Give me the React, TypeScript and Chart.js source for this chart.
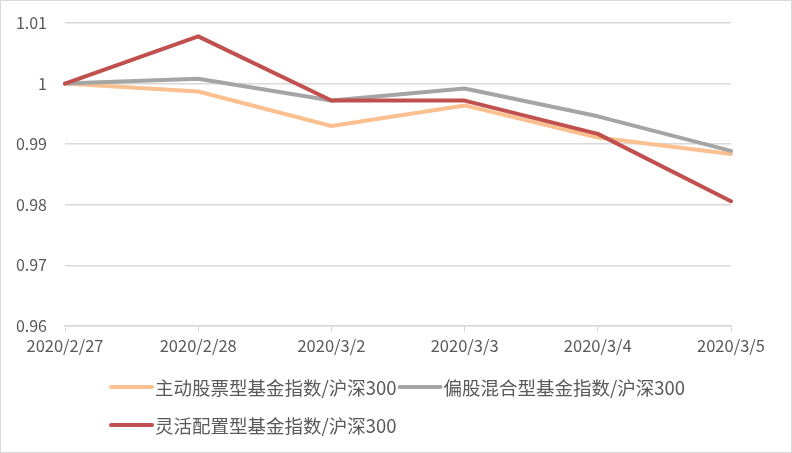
import React, { useEffect, useRef } from "react";
import { Chart, registerables } from "chart.js";

Chart.register(...registerables);

const categories = ["2020/2/27", "2020/2/28", "2020/3/2", "2020/3/3", "2020/3/4", "2020/3/5"];
const activeStock = [1.0, 0.9987, 0.993, 0.9964, 0.9911, 0.9884];
const equityHybrid = [1.0, 1.0008, 0.9972, 0.9992, 0.9946, 0.9889];
const flexibleAlloc = [1.0, 1.0078, 0.9972, 0.9972, 0.9917, 0.9806];
const seriesNames = ["主动股票型基金指数/沪深300", "偏股混合型基金指数/沪深300", "灵活配置型基金指数/沪深300"];
const seriesColors = ["#FAC090", "#A5A5A5", "#C0504D"];

const FONT = '"Noto Sans CJK SC", "Noto Sans", sans-serif';

const legendPlugin = {
  id: "excelLegend",
  afterDraw(chart: any) {
    const ctx = chart.ctx;
    const area = chart.chartArea;
    ctx.save();
    ctx.font = `18.5px ${FONT}`;
    ctx.textBaseline = "middle";
    ctx.textAlign = "left";
    const startX = 108;
    const maxX = 745;
    let x = startX;
    let row = 0;
    chart.data.datasets.forEach((ds: any) => {
      const w = 46 + ctx.measureText(ds.label).width;
      if (x + w > maxX && x !== startX) {
        row += 1;
        x = startX;
      }
      const y = area.bottom + 61 + row * 38;
      ctx.strokeStyle = ds.borderColor;
      ctx.lineWidth = 4;
      ctx.lineCap = "round";
      ctx.beginPath();
      ctx.moveTo(x + 2, y);
      ctx.lineTo(x + 43, y);
      ctx.stroke();
      ctx.fillStyle = "#595959";
      ctx.fillText(ds.label, x + 46, y + 1);
      x += w + 1;
    });
    ctx.restore();
  },
};

export default function App() {
  const canvasRef = useRef<HTMLCanvasElement | null>(null);

  useEffect(() => {
    document.body.style.margin = "0";
    const values = [activeStock, equityHybrid, flexibleAlloc];
    const chart = new Chart(canvasRef.current as HTMLCanvasElement, {
      type: "line",
      data: {
        labels: categories,
        datasets: values.map((v, i) => ({
          label: seriesNames[i],
          data: v,
          borderColor: seriesColors[i],
          backgroundColor: seriesColors[i],
          borderWidth: 4,
          pointRadius: 0,
          tension: 0,
          fill: false,
          borderJoinStyle: "round" as const,
          borderCapStyle: "round" as const,
          order: 3 - i,
        })),
      },
      options: {
        animation: false,
        responsive: false,
        maintainAspectRatio: false,
        layout: { padding: { top: 22, right: 60, left: 0, bottom: 0 } },
        plugins: {
          legend: { display: false },
          tooltip: { enabled: false },
        },
        scales: {
          x: {
            offset: false,
            grid: {
              display: true,
              drawOnChartArea: false,
              drawTicks: true,
              tickLength: 6,
              color: "#D9D9D9",
              lineWidth: 1,
            },
            border: { display: true, color: "#D9D9D9", width: 1.5 },
            ticks: {
              color: "#595959",
              font: { family: FONT, size: 16.5 },
              padding: 4,
              maxRotation: 0,
              autoSkip: false,
            },
            afterFit(scale: any) {
              scale.height = 126;
            },
          },
          y: {
            min: 0.96,
            max: 1.01,
            grid: {
              color: "#D9D9D9",
              lineWidth: 1.5,
              drawTicks: true,
              tickLength: 15,
              tickColor: "rgba(0,0,0,0)",
            },
            border: { display: false },
            ticks: {
              stepSize: 0.01,
              color: "#595959",
              font: { family: FONT, size: 16 },
              padding: 3,
              callback: (v: any) => String(Number(Number(v).toFixed(4))),
            },
            afterFit(scale: any) {
              scale.width = 64;
            },
          },
        },
      },
      plugins: [legendPlugin],
    });
    return () => chart.destroy();
  }, []);

  return (
    <div
      style={{
        width: 792,
        height: 453,
        boxSizing: "border-box",
        border: "1px solid #D9D9D9",
        background: "#fff",
        position: "relative",
      }}
    >
      <canvas ref={canvasRef} width={790} height={451} style={{ display: "block" }} />
    </div>
  );
}
